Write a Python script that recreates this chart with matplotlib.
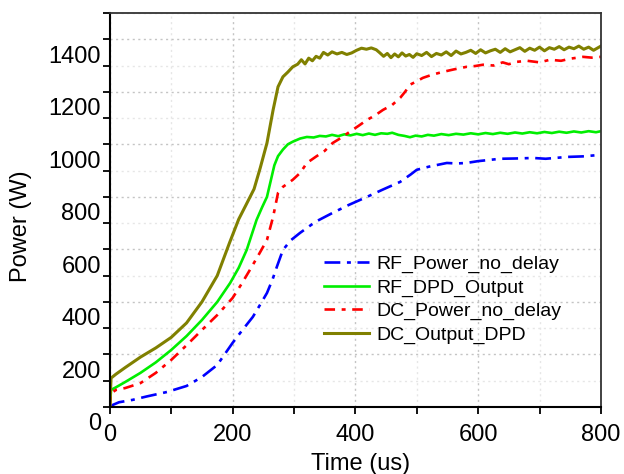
import numpy as np
import matplotlib
matplotlib.use("Agg")
import matplotlib.pyplot as plt
from matplotlib.ticker import MultipleLocator
import matplotlib.transforms as mtransforms

plt.rcParams['font.family'] = ['Liberation Sans', 'DejaVu Sans']

# DC_Output_DPD
t_dc_dpd = [0, 2, 10, 25, 50, 75, 100, 125, 150, 175, 195, 210, 222, 235, 245, 256, 266, 274,
            282, 290, 298, 306, 312, 318, 324, 330, 336, 342, 348, 355, 362, 370, 378, 386, 394,
            402, 410, 418, 426, 434, 440, 446, 452, 458, 464, 470, 476, 482, 488, 494, 500,
            508, 516, 524, 532, 540, 548, 556, 564, 572, 580, 588, 596, 604, 612, 620, 628,
            636, 644, 652, 660, 668, 676, 684, 692, 700, 708, 716, 724, 732, 740, 748, 756,
            764, 772, 780, 788, 794, 800]
p_dc_dpd = [0, 110, 125, 150, 190, 225, 265, 320, 400, 500, 625, 715, 770, 830, 910, 1005, 1131, 1219,
            1257, 1275, 1295, 1305, 1322, 1306, 1328, 1318, 1335, 1328, 1350, 1340, 1352, 1344, 1350, 1342, 1348,
            1358, 1366, 1362, 1367, 1360, 1348, 1335, 1346, 1330, 1344, 1333, 1348, 1336, 1342, 1331, 1345,
            1338, 1350, 1334, 1346, 1340, 1352, 1338, 1355, 1344, 1350, 1358, 1346, 1360, 1348, 1356, 1362,
            1350, 1364, 1352, 1360, 1368, 1354, 1366, 1358, 1370, 1356, 1368, 1362, 1372, 1360, 1370, 1364,
            1374, 1362, 1370, 1358, 1366, 1374]

# RF_DPD_Output
t_rf_dpd = [0, 2, 10, 25, 50, 75, 100, 125, 150, 175, 196, 210, 223, 239, 248, 256, 262, 268,
            274, 282, 290, 298, 310, 321, 332, 342, 352, 362, 372, 382, 392, 402, 412, 422, 432,
            442, 452, 460, 470, 480, 489, 498, 508, 518, 528, 540, 552, 564, 576, 588, 600, 612,
            624, 636, 648, 660, 672, 684, 696, 708, 720, 732, 744, 756, 768, 780, 792, 800]
p_rf_dpd = [0, 65, 75, 95, 130, 170, 217, 270, 331, 400, 472, 530, 598, 712, 760, 800, 860, 920,
            955, 980, 1000, 1010, 1022, 1028, 1026, 1032, 1030, 1036, 1031, 1038, 1034, 1040, 1035, 1041, 1036,
            1042, 1040, 1044, 1036, 1032, 1027, 1033, 1030, 1036, 1033, 1039, 1035, 1040, 1037, 1042, 1038, 1043,
            1039, 1044, 1040, 1045, 1041, 1046, 1042, 1047, 1043, 1048, 1044, 1049, 1045, 1050, 1046, 1050]

# DC_Power_no_delay
t_dc_nd = [0, 2, 5, 10, 25, 50, 75, 100, 125, 150, 175, 200, 215, 231, 245, 256, 266, 274,
           282, 298, 310, 321, 337, 350, 363, 377, 391, 405, 419, 432, 445, 460, 473, 481,
           489, 500, 510, 525, 543, 560, 581, 595, 608, 625, 640, 650, 663, 680, 700, 717,
           735, 750, 771, 785, 800]
p_dc_nd = [0, 55, 57, 65, 72, 91, 130, 179, 235, 293, 350, 415, 470, 533, 590, 636, 724, 815,
           838, 865, 891, 929, 955, 975, 1005, 1025, 1048, 1070, 1093, 1110, 1131, 1150, 1177, 1200,
           1227, 1240, 1253, 1265, 1276, 1285, 1295, 1298, 1303, 1300, 1312, 1305, 1314, 1318, 1312, 1322,
           1318, 1326, 1333, 1330, 1333]

# RF_Power_no_delay
t_rf_nd = [0, 5, 15, 37, 60, 93, 125, 150, 175, 200, 215, 233, 245, 256, 265, 272, 282, 295,
           310, 335, 363, 390, 419, 445, 473, 490, 500, 520, 549, 565, 581, 600, 636, 660,
           690, 710, 745, 770, 800]
p_rf_nd = [0, 8, 18, 27, 40, 57, 80, 114, 160, 244, 290, 343, 390, 434, 485, 533, 598, 635,
           663, 705, 739, 770, 800, 828, 857, 885, 903, 915, 929, 927, 929, 936, 945, 946,
           948, 945, 952, 954, 960]

fig = plt.figure(figsize=(6.24, 4.74), dpi=100)
ax = fig.add_axes([0.176, 0.1414, 0.787, 0.8312])

ax.plot(t_rf_nd, p_rf_nd, color='#0000ff', lw=1.9, dashes=(6, 2.5, 1.5, 2.5), label='RF_Power_no_delay')
ax.plot(t_rf_dpd, p_rf_dpd, color='#00ee00', lw=1.9, label='RF_DPD_Output')
ax.plot(t_dc_nd, p_dc_nd, color='#ff0000', lw=1.9, dashes=(4, 2.5, 1.5, 2.5), label='DC_Power_no_delay')
ax.plot(t_dc_dpd, p_dc_dpd, color='#808000', lw=2.2, label='DC_Output_DPD')

ax.set_xlim(0, 800)
ax.set_ylim(0, 1500)
ax.xaxis.set_major_locator(MultipleLocator(200))
ax.xaxis.set_minor_locator(MultipleLocator(100))
ax.yaxis.set_major_locator(MultipleLocator(200))
ax.yaxis.set_minor_locator(MultipleLocator(100))
ax.grid(True, which='major', color='#c4c4c4', linestyle=(0, (1.5, 2.5)), lw=1.0)
ax.grid(True, which='minor', color='#e6e6e6', linestyle=(0, (1.5, 2.5)), lw=1.0)
ax.set_axisbelow(True)

ax.tick_params(which='both', direction='out', length=5, width=1.3, labelsize=17)
ax.tick_params(axis='y', pad=1.5)
ax.tick_params(axis='x', pad=7)

for side in ['left', 'bottom']:
    ax.spines[side].set_linewidth(1.5)
for side in ['top', 'right']:
    ax.spines[side].set_linewidth(1.3)
    ax.spines[side].set_color('#333333')

offset = mtransforms.ScaledTranslation(0, -0.15, fig.dpi_scale_trans)
for lab in ax.get_yticklabels():
    lab.set_transform(lab.get_transform() + offset)

ax.set_xlabel('Time (us)', fontsize=17)
ax.set_ylabel('Power (W)', fontsize=17)
ax.xaxis.set_label_coords(0.51, -0.118)
ax.yaxis.set_label_coords(-0.158, 0.46)

ax.legend(loc='upper left', bbox_to_anchor=(0.416, 0.41), frameon=False, fontsize=14,
          handlelength=2.3, handletextpad=0.4, labelspacing=0.3, borderpad=0)

fig.savefig('out.png', dpi=100)
